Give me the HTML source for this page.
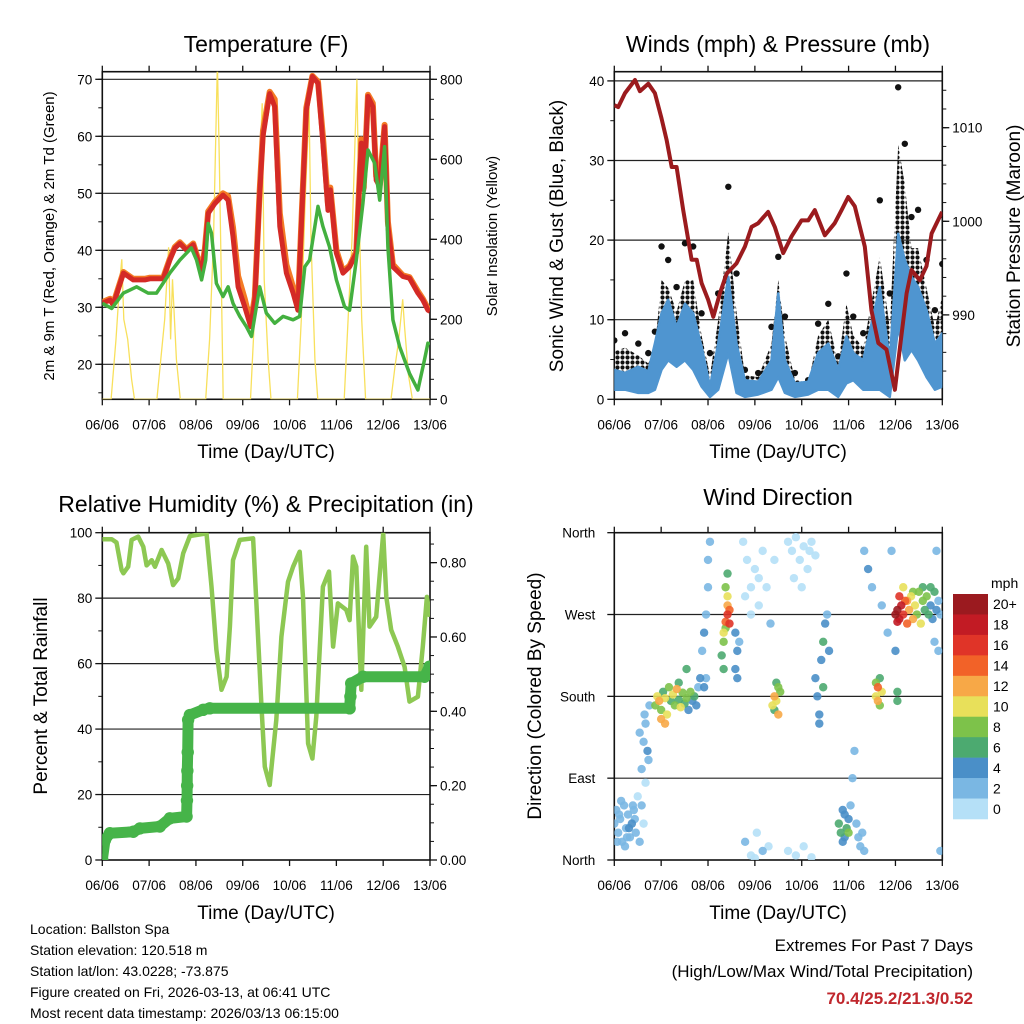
<!DOCTYPE html>
<html><head><meta charset="utf-8"><style>
html,body{margin:0;padding:0;background:#fff;}
svg{display:block;font-family:"Liberation Sans",Arial,sans-serif;}
</style></head><body>
<svg id="chart" width="1024" height="1024" viewBox="0 0 1024 1024" xmlns="http://www.w3.org/2000/svg">
<defs>
<clipPath id="c1"><rect x="102.3" y="71.7" width="327.7" height="327.6"/></clipPath>
<clipPath id="c2"><rect x="614.3" y="71.7" width="328" height="327.6"/></clipPath>
<clipPath id="c3"><rect x="102.3" y="532.7" width="327.7" height="327.3"/></clipPath>
<clipPath id="c4"><rect x="614.3" y="532.7" width="328" height="327.3"/></clipPath>
<pattern id="dots" width="5" height="5" patternUnits="userSpaceOnUse"><circle cx="2.5" cy="2.5" r="2.1" fill="#111"/></pattern>
</defs>
<g id="root"></g>
<text x="266" y="52" font-size="23" text-anchor="middle">Temperature (F)</text>
<text x="778" y="52" font-size="23" text-anchor="middle">Winds (mph) &amp; Pressure (mb)</text>
<text x="266" y="512" font-size="23" text-anchor="middle">Relative Humidity (%) &amp; Precipitation (in)</text>
<text x="778" y="505" font-size="23" text-anchor="middle">Wind Direction</text>
<text x="266" y="458" font-size="19" text-anchor="middle">Time (Day/UTC)</text>
<text x="778" y="458" font-size="19" text-anchor="middle">Time (Day/UTC)</text>
<text x="266" y="919" font-size="19" text-anchor="middle">Time (Day/UTC)</text>
<text x="778" y="919" font-size="19" text-anchor="middle">Time (Day/UTC)</text>
<text transform="translate(54,236) rotate(-90)" font-size="15" text-anchor="middle">2m &amp; 9m T (Red, Orange) &amp; 2m Td (Green)</text>
<text transform="translate(497,236) rotate(-90)" font-size="15" text-anchor="middle">Solar Insolation (Yellow)</text>
<text transform="translate(563,236) rotate(-90)" font-size="19" text-anchor="middle">Sonic Wind &amp; Gust (Blue, Black)</text>
<text transform="translate(1020,236) rotate(-90)" font-size="19" text-anchor="middle">Station Pressure (Maroon)</text>
<text transform="translate(47,696) rotate(-90)" font-size="19" text-anchor="middle">Percent &amp; Total Rainfall</text>
<text transform="translate(541,696) rotate(-90)" font-size="19" text-anchor="middle">Direction (Colored By Speed)</text>
<g font-size="14">
<text x="30" y="934">Location: Ballston Spa</text>
<text x="30" y="955">Station elevation: 120.518 m</text>
<text x="30" y="976">Station lat/lon: 43.0228; -73.875</text>
<text x="30" y="997">Figure created on Fri, 2026-03-13, at 06:41 UTC</text>
<text x="30" y="1018">Most recent data timestamp: 2026/03/13 06:15:00</text>
</g>
<text x="973" y="951" font-size="17" text-anchor="end">Extremes For Past 7 Days</text>
<text x="973" y="977" font-size="17" text-anchor="end">(High/Low/Max Wind/Total Precipitation)</text>
<text x="973" y="1004" font-size="17" font-weight="bold" fill="#c0272d" text-anchor="end">70.4/25.2/21.3/0.52</text>
</svg>
<script>
// ---------- data ----------
const dayLabels=["06/06","07/06","08/06","09/06","10/06","11/06","12/06","13/06"];
const tempTicks=[20,30,40,50,60,70];
const solarTicks=[0,200,400,600,800];
const windTicks=[0,10,20,30,40];
const presTicks=[990,1000,1010];
const rhTicks=[0,20,40,60,80,100];
const precipTicks=["0.00","0.20","0.40","0.60","0.80"];
const dirTicks=["North","East","South","West","North"];
const speedBins=["0","2","4","6","8","10","12","14","16","18","20+"];
const speedColors=["#b5e0f7","#7ab7e3","#4a8fc8","#4caa70","#7dc24a","#e8e05a","#f7a847","#f26228","#e03428","#c21b24","#9b1a1f"];

const redHours=[0,4,5.6,10.8,15.9,21.8,24.4,31.2,34.6,37.2,39.8,43.2,46.6,50.9,52.6,54.3,57.7,61.9,64.5,67,69.6,73,76.1,78.2,80.7,82.4,85.8,88.4,91,94.4,97.8,100.3,102,104.6,107.7,110.6,113.1,115.7,116.9,120,123.4,126.8,130.2,132.8,134,136.2,138.7,140.4,142.2,144.7,146.4,149,154.1,157.5,161.8,164.3,166.9,168];
const redTemp=[30.7,31.3,30.4,36,34.8,34.8,35,35,38.3,40.4,41.2,40,41,36,40,46.5,48.2,49.7,48.8,42.4,33.6,30.1,26.6,31.3,50,60,67.5,65.2,44.2,36,32.5,29.5,44.2,64.6,70.5,69.3,58.8,47,50.6,39.5,36,37.1,39.5,58.8,50.6,67,65.2,52.3,51.2,61.7,44.2,37.1,35.4,35.1,32.5,31.3,29.5,29.3];
const orangeTemp=[30.9,31.5,30.6,36.2,35,35,35.2,35.2,38.5,40.6,41.4,40.2,41.2,36.5,40.3,46.8,48.5,50,49.5,44,35.5,31.5,27.2,31.8,50.5,61,67.8,66.5,46.5,37.5,33.5,30.2,44.5,65,70.6,69.6,60,48,51,40,36.3,37.3,39.8,59.5,51,67.3,65.8,53,51.5,62,45,37.5,35.6,35.3,32.8,31.5,29.8,29.5];
const greenHours=[0,4.8,10.8,17.6,23.5,27.8,34.6,39.8,45.7,48.3,50.9,53,54.3,56,58.5,61.9,64.5,67,70.5,73.9,76.5,80.7,84.1,88.4,92.7,97.8,101.2,103.8,106.3,110.6,113.1,116.5,120,124.2,126.8,130.2,133.6,136.2,139.6,142.2,144.7,146.4,149,152.4,157.5,161.8,165.2,166.9,168];
const greenTd=[30.7,29.8,32.5,33.6,32.5,32.5,36,38.3,40.4,38.3,34.8,38.3,44.7,43,34.2,31.9,33.6,30.7,28.4,26.6,24.9,33.6,29,27.2,28.4,27.8,28.4,37.1,38.3,47.7,44.2,40.6,34.8,30.1,29.5,38.3,48.2,57.6,55.3,48.8,58.2,40.6,27.8,23.1,18.4,15.5,20.8,23.7,23.5];
const solarHours=[0,4.5,7,9,10,11,13,15,16.5,28,30,32,34,35,36,38,40,53,55,57,59,60,61,62,76,78,80,82,83,85,86.5,100,102,104,106,107,109,110.5,124,126,128,130.5,131.5,133,135,148,150,152,154,155,157,159,168];
const solarVals=[0,0,150,300,350,200,150,50,0,0,100,200,380,150,300,100,0,0,150,400,840,600,300,0,0,200,500,740,300,100,0,0,200,500,730,400,100,0,0,200,400,800,500,200,0,0,80,150,250,180,60,0,0];

const presHours=[0,2,5.5,10.6,13.1,17.4,20.8,24.2,26.8,29.4,31.9,35.3,39.6,42.2,44.7,48.1,50.7,54.1,57.5,62.6,66.9,70.3,73.7,78.8,82.2,86.5,90.8,95.9,99.3,102.7,107.8,112.9,116.4,119.8,123.2,128.3,131.7,135.2,139.4,143.7,146.2,149.7,152.2,156.5,159.9,162.5,167.9];
const presVals=[1012.4,1012.2,1013.7,1015.1,1013.9,1014.7,1013.7,1011,1008.7,1005.8,1005.8,1001.2,995.9,995.9,993.4,991.6,989.8,992.3,994.4,995.5,997.3,999.4,999.8,1001,999.4,996.6,998.4,1000.1,1000.1,1001.2,998.5,999.8,1001.2,1002.6,1001.6,997.3,990.5,987,986.3,982,986.3,992.3,994.8,993.7,995.2,998.7,1001];
const windHours=[0,5.5,12.3,17.4,20.8,24.2,27.6,31.9,36.2,40.4,44.7,49,53.2,58.4,62.6,66.9,73.7,80.5,84,87.4,92.5,99.3,104.4,109.6,114.7,118.9,122.4,127.5,136,141.1,145.4,148.8,152.2,155.6,159.9,164.2,168];
const windLow=[1.2,1.2,0.8,0.8,1.2,3.7,4.9,4.1,4.9,3.7,1.6,0.3,1.2,5.8,0.8,0.3,0.6,1.2,2.8,0.8,0.3,0.6,1.2,1.2,0.3,2,2.4,1.2,1.2,0.3,9.1,4.9,6.2,4.9,2.8,1.2,1.6];
const windHigh=[3.7,3.3,4.1,3.5,7,10.8,12.5,9.1,12,10.8,6.6,1.6,7,15.4,7,2.4,2.2,4.9,13.3,4.9,2,2.2,5.8,7,3.7,7.9,5.8,4.9,14.1,4.9,20.8,17.5,15.4,14.1,11.2,7,8.3];
const gustDense=[6,6.5,5.5,4.5,6.5,15,14,11,15,15,8,3,10,21,11,3,2.8,7,15,8,2.5,2,8,10,4.5,12,8,6.5,18,9,32,27,19,19,14,9,13];
const gustMax=[7.4,8.3,7,5.8,8.5,19.2,17.5,14.1,19.6,19.2,10.8,5.8,13.3,26.7,15.8,3.7,3.3,9.1,17.9,10.4,3.3,2.4,9.5,12,5.4,15.8,10.4,8.3,25,13.3,39.2,32.1,22.9,23.8,17.5,11.2,17];

const rhHours=[0,4.8,7.3,9.9,10.8,13.3,15,18.4,21,22.7,25.3,27,30.4,33.8,36.3,38.9,41.5,44.9,53.4,56,58.5,61.1,63.7,65.4,67,70.5,77.3,79,81.6,83.3,85.8,89.2,91.8,95.2,97.8,101.2,102.9,105.5,107.7,109.7,113.1,116.2,118.3,120.8,125.1,126.8,128.5,130.2,132.8,135.3,137,140.4,144,145.6,148.1,151.5,155,157.5,161.8,164.3,166.4,168];
const rhVals=[98,98,97,88.6,87.6,89.6,97.8,98.8,95.7,90,91.6,89.6,94.7,90.6,84,86,93.7,99,99.8,83.5,64.2,52,56,71.3,91.6,97.8,98.3,78.4,46.8,28.5,22.9,42.8,68.2,85,89.6,94.2,80.4,35.6,31,43.8,83.5,88.1,65.2,78.4,76.4,73.3,92.7,89.6,52,95.7,71.3,74.3,99.8,80.4,70.3,65.2,59,48.4,49.9,65.2,80.4,74.3];
const precipHours=[0,1.4,3.9,15.9,19.3,29.5,34.6,43.2,43.4,43.5,43.6,43.8,44,44.9,51.7,55.1,126.8,127.2,127.6,133.6,165.2,167.7];
const precipVals=[0,0.054,0.072,0.076,0.085,0.09,0.112,0.117,0.16,0.2,0.24,0.29,0.377,0.39,0.404,0.408,0.408,0.44,0.475,0.493,0.493,0.52];

const dirHours=[0,1,2,3,4,5,6,7,8,9,10,11,1.5,3.5,5.5,7.5,9.5,2.5,6.5,10.5,12,13,14,15,16,
14,15,16,17,18,15.5,13,17.5,
21,22,23,24,25,26,27,28,29,30,31,32,33,34,35,36,37,38,39,40,41,42,43,44,26,24,33,37,
45,46,47,47,48,48,49,46,
56,55,56,57,57,58,58,58,59,57,58,59,56,62,63,64,62,63,
66,68,70,72,74,76,78,80,70,74,67,82,67,70,73,76,79,72,
81,82,83,84,82,85,84,83,
89,91,93,95,97,99,101,103,92,96,100,89,93,97,101,
103,104,105,106,107,108,109,107,105,110,
115,116,117,118,119,120,121,122,123,124,125,126,127,128,118,120,117,
134,135,135,136,136,137,134,145,145,128,130,132,137,140,142,144,
144,145,146,147,148,149,150,151,152,153,154,155,156,157,158,159,160,161,162,163,164,165,166,167,145,146,148,150,153,158,162,164,166,165,167];
const dirDeg=[40,55,30,45,20,60,35,50,25,40,55,30,20,65,15,35,60,50,25,45,70,20,60,40,85,
100,130,150,120,170,160,140,110,
170,180,175,165,185,178,160,190,175,182,170,188,176,168,184,172,178,165,185,175,180,170,190,200,150,155,195,210,
230,250,200,270,300,330,350,190,
210,225,240,255,262,270,280,290,275,300,315,260,250,210,230,240,250,200,
350,330,300,320,280,340,300,260,270,310,290,330,20,5,30,10,15,2,
170,180,175,190,165,185,160,195,
350,340,355,330,345,320,350,335,310,300,340,10,5,15,3,
200,180,160,220,240,260,270,190,150,230,
40,30,20,50,35,45,60,90,120,40,25,15,30,10,25,30,55,
180,190,175,170,200,185,195,175,185,340,320,300,280,250,340,230,
270,275,265,280,270,285,260,275,290,265,280,270,295,260,285,275,290,270,280,265,295,275,285,270,262,290,300,285,295,300,300,240,230,340,10];
const dirSpeed=[2,2,3,2,3,2,3,2,2,4,2,2,2,2,3,4,2,3,2,3,1,2,2,1,1,
2,3,2,4,2,3,2,2,
8,10,12,9,7,11,10,8,6,10,9,12,7,10,9,6,8,5,9,4,6,4,3,4,12,12,6,6,
3,4,2,2,2,2,2,4,
6,7,8,9,14,16,12,10,14,8,6,16,10,4,4,3,4,4,
1,0,1,0,1,0,1,2,1,0,1,1,2,1,1,2,1,1,
10,12,10,8,6,9,12,6,
0,0,0,1,0,0,1,0,0,1,0,1,1,0,1,
4,4,5,4,6,4,3,6,4,4,
6,7,4,4,6,4,3,3,3,3,3,3,2,2,5,8,5,
10,14,12,8,6,10,8,6,6,3,4,2,3,2,3,4,
20,21,19,18,17,14,15,12,10,12,10,8,9,11,8,7,8,6,5,4,6,4,3,3,18,16,11,13,9,6,7,3,3,2,2];

// ---------- helpers ----------
const NS="http://www.w3.org/2000/svg";
const root=document.getElementById('root');
function mk(tag,attrs,parent){const e=document.createElementNS(NS,tag);for(const k in attrs)e.setAttribute(k,attrs[k]);(parent||root).appendChild(e);return e;}
function grp(name,clip){const g=mk('g',clip?{'clip-path':'url(#'+clip+')'}:{});


return g;}
const L=[102.3,430],R=[614.3,942.3];
const TOP=[71.7,399.3],BOT=[532.7,860];
function xs(P){return h=>P[0]+(P[1]-P[0])*h/168;}
const xL=xs(L),xR=xs(R);
const yTemp=t=>307.3-(t-30)*5.7;
const ySolar=s=>399.3-s*0.4;
const yWind=w=>399.3-w*7.96;
const yPres=p=>221.3-(p-1000)*9.36;
const yRH=r=>860-r*3.273;
const yPrecip=p=>860-p*371.7;
const yDir=d=>860-d*0.9092;

function frame(P,Y,name,gridYs){
  const g=grp(name+'-axes');
  gridYs.forEach(y=>{const l=mk('line',{x1:P[0],x2:P[1],y1:y,y2:y,stroke:'#222','stroke-width':1.2},g);
  
  });
  mk('rect',{x:P[0],y:Y[0],width:P[1]-P[0],height:Y[1]-Y[0],fill:'none',stroke:'#111','stroke-width':1.6},g);
  dayLabels.forEach((lab,i)=>{const x=P[0]+(P[1]-P[0])*i/7;
    mk('line',{x1:x,x2:x,y1:Y[1],y2:Y[1]+6,stroke:'#111','stroke-width':1.3},g);
    mk('line',{x1:x,x2:x,y1:Y[0],y2:Y[0]-6,stroke:'#111','stroke-width':1.3},g);
    const t=mk('text',{x:x,y:Y[1]+30,'font-size':13.5,'text-anchor':'middle'},g);t.textContent=lab;
    
    });
  return g;
}
function yTicks(g,P,vals,labels,fy,side,minors){
  const x=side==='l'?P[0]:P[1];const d=side==='l'?-1:1;
  if(minors)minors.forEach(v=>mk('line',{x1:x,x2:x+d*4,y1:fy(v),y2:fy(v),stroke:'#111','stroke-width':1},g));
  vals.forEach((v,i)=>{const y=fy(v);
    mk('line',{x1:x,x2:x+d*7,y1:y,y2:y,stroke:'#111','stroke-width':1.3},g);
    const t=mk('text',{x:x+d*10,y:y+5,'font-size':13.5,'text-anchor':side==='l'?'end':'start'},g);t.textContent=labels[i];
    
    });
}
function poly(hours,vals,fx,fy){return hours.map((h,i)=>fx(h).toFixed(1)+','+fy(vals[i]).toFixed(1)).join(' ');}
function range(a,b,s){const r=[];for(let v=a;v<=b+1e-9;v+=s)r.push(v);return r;}

// ---------- panel 1: temperature ----------
{
  const g=frame(L,TOP,'temperature',tempTicks.map(yTemp));
  yTicks(g,L,tempTicks,tempTicks.map(String),yTemp,'l',range(15,70,5));
  yTicks(g,L,solarTicks,solarTicks.map(String),ySolar,'r',range(50,800,50));
  const c=grp('temperature-series','c1');
  const s=mk('polyline',{points:poly(solarHours,solarVals,xL,ySolar),fill:'none',stroke:'#f8e05c','stroke-width':1.3},c);
  
  
  const o=mk('polyline',{points:poly(redHours,orangeTemp,xL,yTemp),fill:'none',stroke:'#f47b25','stroke-width':6,'stroke-linejoin':'round'},c);
  
  
  const r=mk('polyline',{points:poly(redHours,redTemp,xL,yTemp),fill:'none',stroke:'#d42a26','stroke-width':5,'stroke-linejoin':'round'},c);
  
  
  const gr=mk('polyline',{points:poly(greenHours,greenTd,xL,yTemp),fill:'none',stroke:'#43b03f','stroke-width':3.5,'stroke-linejoin':'round'},c);
  
  
}
// ---------- panel 2: winds ----------
{
  const g=frame(R,TOP,'winds',windTicks.map(yWind));
  yTicks(g,R,windTicks,windTicks.map(String),yWind,'l',range(5,35,5));
  yTicks(g,R,presTicks,presTicks.map(String),yPres,'r',range(984,1014,2));
  const c=grp('winds-series','c2');
  const top=windHours.map((h,i)=>xR(h).toFixed(1)+','+yWind(gustDense[i]).toFixed(1));
  const bot=windHours.map((h,i)=>xR(h).toFixed(1)+','+yWind(windLow[i]).toFixed(1)).reverse();
  const gb=mk('polygon',{points:top.concat(bot).join(' '),fill:'url(#dots)',stroke:'none'},c);
  
  
  windHours.forEach((h,i)=>{const d=mk('circle',{cx:xR(h),cy:yWind(gustMax[i]),r:3.2,fill:'#111'},c);
    
    });
  const wt=windHours.map((h,i)=>xR(h).toFixed(1)+','+yWind(windHigh[i]).toFixed(1));
  const wb=mk('polygon',{points:wt.concat(bot).join(' '),fill:'#4f95d0',stroke:'#4f95d0','stroke-width':2.5,'stroke-linejoin':'round'},c);
  
  
  const p=mk('polyline',{points:poly(presHours,presVals,xR,yPres),fill:'none',stroke:'#9b1b1e','stroke-width':4,'stroke-linejoin':'round'},c);
  
  
}
// ---------- panel 3: humidity ----------
{
  const g=frame(L,BOT,'humidity',[20,40,60,80].map(yRH));
  yTicks(g,L,rhTicks,rhTicks.map(String),yRH,'l',range(10,90,20));
  yTicks(g,L,precipTicks.map(Number),precipTicks,yPrecip,'r',range(0.05,0.85,0.05));
  const c=grp('humidity-series','c3');
  const rh=mk('polyline',{points:poly(rhHours,rhVals,xL,yRH),fill:'none',stroke:'#8dc853','stroke-width':4.5,'stroke-linejoin':'round'},c);
  
  
  const pr=mk('polyline',{points:poly(precipHours,precipVals,xL,yPrecip),fill:'none',stroke:'#46b449','stroke-width':11,'stroke-linejoin':'round','stroke-linecap':'round'},c);
  
  
  precipHours.forEach((h,i)=>{const d=mk('circle',{cx:xL(h),cy:yPrecip(precipVals[i]),r:6.2,fill:'#46b449'},c);
    
    });
}
// ---------- panel 4: wind direction ----------
{
  const g=frame(R,BOT,'wind-direction',[90,180,270].map(yDir));
  const dv=[0,90,180,270,360];
  dv.forEach((v,i)=>{const y=yDir(v);
    mk('line',{x1:R[0],x2:R[0]-7,y1:y,y2:y,stroke:'#111','stroke-width':1.3},g);
    const t=mk('text',{x:R[0]-19,y:y+5,'font-size':13.5,'text-anchor':'end'},g);t.textContent=dirTicks[i];
    
    });
  const c=grp('wind-direction-points','c4');
  const order=dirHours.map((h,i)=>i).sort((a,b)=>dirSpeed[a]-dirSpeed[b]);
  order.forEach(i=>{const bin=Math.min(10,Math.floor(dirSpeed[i]/2));
    const d=mk('circle',{cx:xR(dirHours[i]),cy:yDir(dirDeg[i]),r:4.2,fill:speedColors[bin],'fill-opacity':0.9},c);
    
    });
  // colorbar
  const cb=grp('speed-colorbar');
  const t0=mk('text',{x:991,y:588,'font-size':14},cb);t0.textContent='mph';
  
  
  const bh=225/speedBins.length;
  speedBins.slice().reverse().forEach((lab,k)=>{const idx=speedBins.length-1-k;const y=594+k*bh;
    const r=mk('rect',{x:953,y:y,width:35,height:bh+0.3,fill:speedColors[idx]},cb);
    
    
    const t=mk('text',{x:993,y:y+bh/2+5,'font-size':14},cb);t.textContent=lab;
    
    });
}
</script>
</body></html>
